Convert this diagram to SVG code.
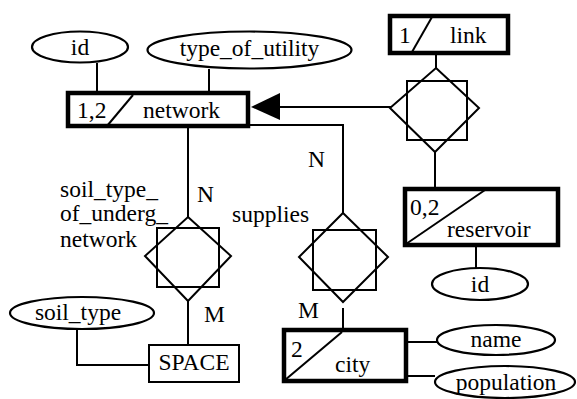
<svg xmlns="http://www.w3.org/2000/svg" width="577" height="399" viewBox="0 0 577 399" font-family="'Liberation Serif', 'Times New Roman', serif">
<style>
text{font-family:'Liberation Serif','Times New Roman',Times,serif;font-size:23.5px;fill:#000}
.t{fill:none;stroke:#000;stroke-width:2}
.k{fill:#fff;stroke:#000;stroke-width:4.5}
.e{fill:#fff;stroke:#000;stroke-width:2.2}
.m{text-anchor:middle}
</style>
<rect width="577" height="399" fill="#fff"/>
<g id="connectors" class="t">
<line x1="97" y1="63" x2="97" y2="93"/>
<line x1="209" y1="69" x2="209" y2="93"/>
<line x1="278" y1="107" x2="391" y2="107"/>
<line x1="436" y1="55" x2="436" y2="68"/>
<line x1="435" y1="152" x2="435" y2="189"/>
<polyline points="250,125 343,125 343,213"/>
<line x1="188" y1="128" x2="188" y2="217"/>
<line x1="188" y1="301" x2="188" y2="345"/>
<polyline points="77,330 77,365 149,365"/>
<line x1="476" y1="247" x2="476" y2="268"/>
<line x1="343" y1="308" x2="343" y2="330"/>
<line x1="408" y1="342" x2="437" y2="342"/>
<line x1="408" y1="376" x2="435" y2="376"/>
<polygon points="251,107 280,93 280,120" fill="#000" stroke="none"/>
</g>
<g id="network">
<rect class="k" x="68" y="93" width="180" height="33"/>
<line class="t" x1="107" y1="126" x2="133" y2="95"/>
<text x="77" y="118">1,2</text>
<text x="143" y="118">network</text>
</g>
<g id="attr-id">
<ellipse class="e" cx="80" cy="47" rx="48" ry="15.5"/>
<text class="m" x="80" y="55">id</text>
</g>
<g id="attr-type_of_utility">
<ellipse class="e" cx="249.5" cy="50" rx="102" ry="18.5"/>
<text class="m" x="249.5" y="56">type_of_utility</text>
</g>
<g id="link">
<rect class="k" x="390" y="16" width="118" height="37"/>
<line class="t" x1="412" y1="52" x2="432" y2="17"/>
<text x="399" y="43">1</text>
<text x="450" y="43">link</text>
</g>
<g id="rel-link">
<rect class="t" x="407" y="81" width="60" height="59"/>
<polygon class="t" points="436,68 479,108 435,152 390,108"/>
</g>
<g id="reservoir">
<rect class="k" x="405" y="189" width="153" height="56"/>
<line class="t" x1="406" y1="244" x2="485" y2="190"/>
<text x="410" y="215">0,2</text>
<text x="447" y="237">reservoir</text>
</g>
<g id="attr-reservoir-id">
<ellipse class="e" cx="480" cy="284" rx="48" ry="16"/>
<text class="m" x="480" y="292">id</text>
</g>
<g id="rel-supplies">
<rect class="t" x="313" y="230" width="63" height="60"/>
<polygon class="t" points="343,213 388,257 343,302 299,257"/>
<text x="232" y="222">supplies</text>
<text x="308" y="167">N</text>
<text x="298" y="318">M</text>
</g>
<g id="rel-soil">
<rect class="t" x="157" y="228" width="62" height="59"/>
<polygon class="t" points="188,217 231,256 188,301 145,256"/>
<text x="60" y="197">soil_type_</text>
<text x="60" y="221">of_underg_</text>
<text x="60" y="247">network</text>
<text x="197" y="202">N</text>
<text x="204" y="322">M</text>
</g>
<g id="space">
<rect class="t" x="149" y="345" width="90" height="37"/>
<text class="m" x="194" y="370">SPACE</text>
</g>
<g id="attr-soil_type">
<ellipse class="e" cx="82" cy="313" rx="72" ry="16"/>
<text class="m" x="78" y="320">soil_type</text>
</g>
<g id="city">
<rect class="k" x="284" y="330" width="122" height="51"/>
<line class="t" x1="285" y1="380" x2="342" y2="332"/>
<text x="291" y="357">2</text>
<text x="335" y="372">city</text>
</g>
<g id="attr-name">
<ellipse class="e" cx="496" cy="340" rx="59" ry="15"/>
<text class="m" x="496" y="347">name</text>
</g>
<g id="attr-population">
<ellipse class="e" cx="505" cy="382" rx="70" ry="16"/>
<text class="m" x="506" y="390">population</text>
</g>
</svg>
